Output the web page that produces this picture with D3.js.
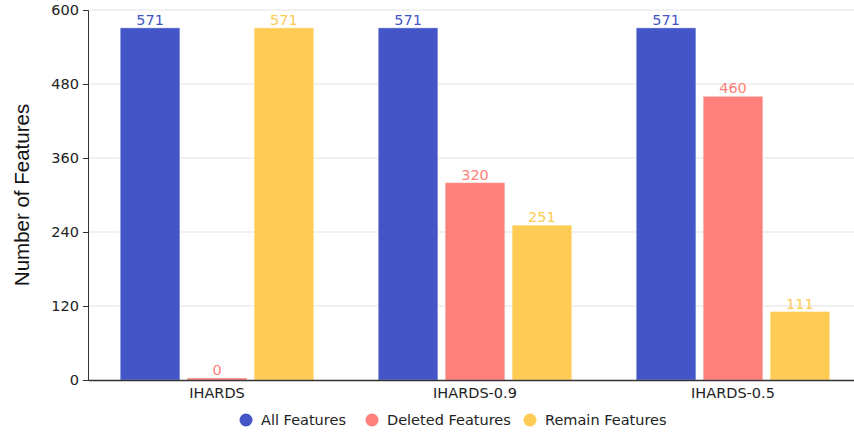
<!DOCTYPE html>
<html><head><meta charset="utf-8">
<script src="https://cdn.jsdelivr.net/npm/d3@7"></script>
<style>body{margin:0;background:#fff}svg{display:block}</style>
</head><body>
<svg id="c" width="854" height="434"></svg>
<script>
const categories = ["IHARDS", "IHARDS-0.9", "IHARDS-0.5"];
const seriesNames = ["All Features", "Deleted Features", "Remain Features"];
const allFeatures = [571, 571, 571];
const deletedFeatures = [0, 320, 460];
const remainFeatures = [571, 251, 111];
const yTicks = [0, 120, 240, 360, 480, 600];
const colors = ["#4355C7", "#FF7F7A", "#FECB54"];

(function () {
const seriesValues = [allFeatures, deletedFeatures, remainFeatures];
const svg = d3.select("#c");
const mLeft = 88, mRight = 862, mTop = 10, mBottom = 380;
const font = "'DejaVu Sans', Verdana, sans-serif";
const fs = 14.5;

const y = d3.scaleLinear().domain([0, 600]).range([mBottom, mTop]);
const x0 = d3.scaleBand().domain(categories).range([mLeft, mRight]).paddingInner(0.25).paddingOuter(0.125);
const x1 = d3.scaleBand().domain(seriesNames).range([0, x0.bandwidth()]).paddingInner(0.11);

// grid
svg.append("g").selectAll("line").data(yTicks.filter(d => d > 0)).join("line")
  .attr("x1", mLeft).attr("x2", 854).attr("y1", d => y(d)).attr("y2", d => y(d))
  .attr("stroke", "#e3e3e3").attr("stroke-width", 1);

// bars
const groups = svg.append("g").selectAll("g").data(categories).join("g")
  .attr("transform", c => `translate(${x0(c)},0)`);
groups.each(function (c, i) {
  const g = d3.select(this);
  seriesNames.forEach((s, j) => {
    const v = seriesValues[j][i];
    const h = Math.max(mBottom - y(v), 2);
    g.append("rect").attr("x", x1(s)).attr("width", x1.bandwidth())
      .attr("y", mBottom - h).attr("height", h).attr("fill", colors[j])
      .attr("stroke", "rgba(255,255,255,0.35)").attr("stroke-width", 1);
    g.append("text").attr("x", x1(s) + x1.bandwidth() / 2).attr("y", mBottom - h - 3)
      .attr("text-anchor", "middle").attr("font-family", font).attr("font-size", fs)
      .attr("fill", colors[j]).text(v);
  });
});

// y axis
const yAxis = svg.append("g").attr("transform", `translate(${mLeft},0)`)
  .call(d3.axisLeft(y).tickValues(yTicks).tickSize(5).tickPadding(4));
yAxis.select(".domain").attr("stroke", "#333");
yAxis.selectAll(".tick line").attr("stroke", "#333");
yAxis.selectAll("text").attr("font-family", font).attr("font-size", fs).attr("fill", "#222");

// x axis
const xAxis = svg.append("g").attr("transform", `translate(0,${mBottom})`)
  .call(d3.axisBottom(x0).tickSize(0).tickPadding(8));
xAxis.select(".domain").attr("stroke", "#333").attr("stroke-width", 1.5);
xAxis.selectAll("text").attr("font-family", font).attr("font-size", fs).attr("fill", "#222");

// y title
svg.append("text").attr("transform", "translate(29,195) rotate(-90)")
  .attr("text-anchor", "middle").attr("font-family", "'Liberation Sans', Arial, sans-serif")
  .attr("font-size", 20.5).attr("fill", "#111").text("Number of Features");

// legend
const legX = [246, 372, 530];
const leg = svg.append("g").selectAll("g").data(seriesNames).join("g")
  .attr("transform", (d, i) => `translate(${legX[i]},420)`);
leg.append("circle").attr("r", 6.5).attr("fill", (d, i) => colors[i]);
leg.append("text").attr("x", 15).attr("y", 5).attr("font-family", font).attr("font-size", fs)
  .attr("fill", "#222").text(d => d);
})();
</script>
</body></html>
